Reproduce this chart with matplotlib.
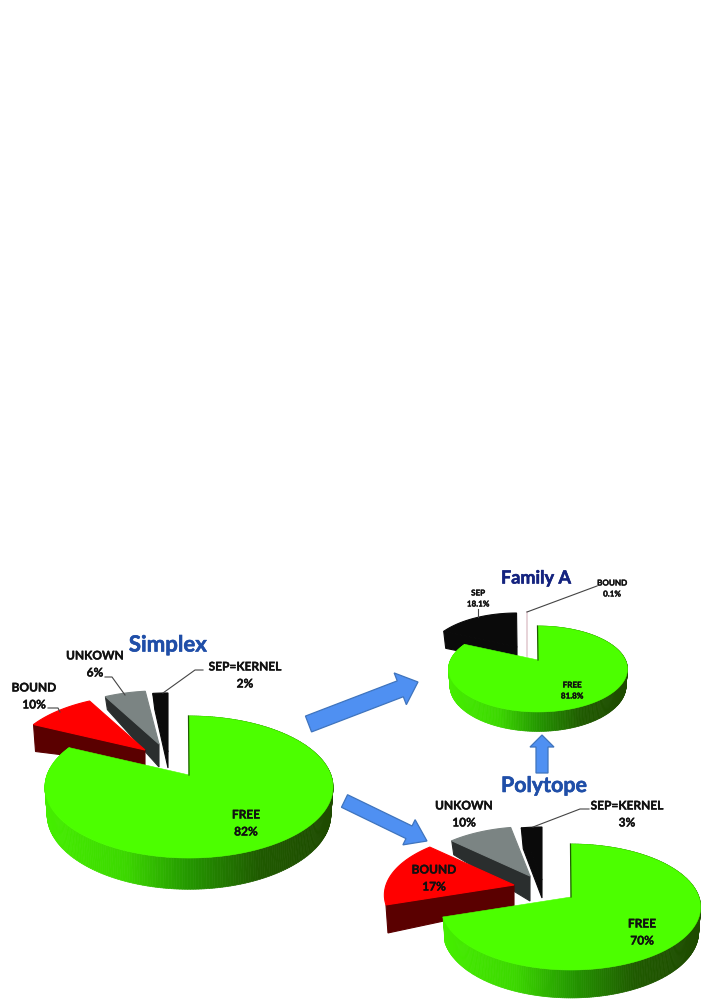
import numpy as np
import matplotlib
matplotlib.use('Agg')
import matplotlib.pyplot as plt
import matplotlib.patheffects as pe
from matplotlib.colors import LinearSegmentedColormap
from matplotlib.patches import FancyArrow, Polygon
from matplotlib.collections import PolyCollection

plt.rcParams['font.family'] = ['Lato', 'DejaVu Sans']

# values (percent, clockwise from 12 o'clock)
simplex_names = ['FREE', 'BOUND', 'UNKOWN', 'SEP=KERNEL']
simplex_vals = [82, 10, 6, 2]
polytope_names = ['FREE', 'BOUND', 'UNKOWN', 'SEP=KERNEL']
polytope_vals = [70, 17, 10, 3]
family_names = ['FREE', 'SEP', 'BOUND']
family_vals = [81.8, 18.1, 0.1]

GREEN = '#4cff00'
RED = '#ff0000'
DRED = '#5a0000'
GREY = '#7b8483'
DGREY = '#2a2e2e'
BLACK = '#0a0a0a'
BLUE = '#1f4ea8'
NAVY = '#14237f'
ARROW = '#4f90f2'
ARROW_EDGE = '#3f74bd'

wall_cmap = LinearSegmentedColormap.from_list(
    'wall', [(0, '#45ee00'), (0.28, '#3cd800'), (0.5, '#249800'), (0.75, '#1f5a00'), (1, '#1e4a00')])

fig = plt.figure(figsize=(7.08, 10.01), dpi=100)
ax = fig.add_axes([0, 0, 1, 1])
ax.set_xlim(0, 708)
ax.set_ylim(1001, 0)
ax.axis('off')


def edges(vals):
    # math angles of slice edges, going clockwise from the top
    return 90 - np.cumsum([0] + list(vals)) * 3.6


def ring(th, rx, ry, k):
    # circle seen in perspective, offsets from the pie centre
    t = np.radians(th)
    s = -np.sin(t)
    d = 1 - k * s
    return rx * np.cos(t) / d, ry * s / d


def draw_slice(a0, a1, tip, scale, wall, col, wcol, rx, ry, k):
    # a0 -> a1 clockwise, wall is under the a0 edge (outer depth, tip depth)
    th = np.linspace(a0, a1, 40)
    x, y = ring(th, rx, ry, k)
    x = tip[0] + x * scale
    y = tip[1] + y * scale
    wall_pts = [(x[0], y[0]), (x[0] + 2, y[0] + wall[0]), (tip[0], tip[1] + wall[1]), tip]
    ax.add_patch(Polygon(wall_pts, closed=True, fc=wcol, ec=wcol, lw=0.8))
    ax.add_patch(Polygon(np.column_stack([np.r_[tip[0], x], np.r_[tip[1], y]]),
                         closed=True, fc=col, ec=col, lw=0.8))


def draw_free(share, c, rx, ry, k, depth):
    a0, a1 = 90, 90 - share * 3.6
    th = np.linspace(a0, a1, 320)
    x, y = ring(th, rx, ry, k)
    s = -np.sin(np.radians(th))
    d = depth / (1 - k * s)
    bx = x * 0.985
    by = y * 0.985 + d
    polys, cols = [], []
    lo, hi = x.min(), x.max()
    for i in range(len(th) - 1):
        polys.append([(c[0] + x[i], c[1] + y[i]), (c[0] + x[i + 1], c[1] + y[i + 1]),
                      (c[0] + bx[i + 1], c[1] + by[i + 1]), (c[0] + bx[i], c[1] + by[i])])
        cols.append(wall_cmap((x[i] - lo) / (hi - lo)))
    ax.add_collection(PolyCollection(polys, facecolors=cols, edgecolors=cols, linewidths=0.5))
    ax.add_patch(Polygon(np.column_stack([np.r_[c[0], c[0] + x], np.r_[c[1], c[1] + y]]),
                         closed=True, fc=GREEN, ec=GREEN, lw=0.4))
    ax.plot([c[0], c[0] - 0.5], [c[1], c[1] - ry / (1 + k)], color='#1e5a00', lw=0.9)


def arrow(x0, y0, x1, y1, w, hw, hl):
    ax.add_patch(FancyArrow(x0, y0, x1 - x0, y1 - y0, width=w, head_width=hw, head_length=hl,
                            length_includes_head=True, fc=ARROW, ec=ARROW_EDGE, lw=0.9))


def heavy(t, col, w):
    t.set_path_effects([pe.withStroke(linewidth=w, foreground=col)])


def label(x, y, a, b, size, gap):
    for yy, s in ((y, a), (y + gap, b)):
        t = ax.text(x, yy, s, ha='center', va='center', fontsize=size, fontweight='bold', color='#111111')
        heavy(t, '#111111', 0.25)


def title(x, y, s, size, col):
    t = ax.text(x, y, s, ha='center', va='center', fontsize=size, fontweight='bold', color=col)
    heavy(t, col, 0.4)


def leader(xs, ys):
    ax.plot(xs, ys, color='#444444', lw=0.8)


# Simplex
e = edges(simplex_vals)
geo = dict(rx=142, ry=69, k=0.169)
draw_slice(e[3], e[4], (168, 752), 1.0, (16, 16), BLACK, BLACK, **geo)
draw_slice(e[2], e[3], (159, 744), 0.9, (13, 23), GREY, DGREY, **geo)
draw_slice(e[1], e[2], (145, 750), 0.93, (27, 15), RED, DRED, **geo)
draw_free(simplex_vals[0], (189, 775), depth=27, **geo)

# Polytope
e = edges(polytope_vals)
geo = dict(rx=128, ry=61.4, k=0.159)
draw_slice(e[3], e[4], (542, 880), 1.0, (21, 18), BLACK, BLACK, **geo)
draw_slice(e[2], e[3], (530, 876), 0.93, (14, 25), GREY, DGREY, **geo)
draw_slice(e[1], e[2], (514, 885), 1.0, (28, 21), RED, DRED, **geo)
draw_free(polytope_vals[0], (571, 897), depth=24.4, **geo)

# Family A
e = edges(family_vals)
geo = dict(rx=87.5, ry=41.1, k=0.209)
draw_slice(e[1], e[2], (517, 647), 1.0, (17, 16), BLACK, BLACK, **geo)
ax.plot([527, 527], [612, 656], color='#e3ccd2', lw=1.2)
draw_free(family_vals[0], (538, 660), depth=16, **geo)

# arrows
arrow(308.5, 724, 418, 682, 17, 34, 19)
arrow(344.5, 801, 427, 841, 14, 28, 20)
arrow(542, 773, 542, 735, 12, 24, 12)

# titles
title(168, 645, 'Simplex', 16, BLUE)
title(536, 578, 'Family A', 13, NAVY)
title(544, 786, 'Polytope', 15.4, BLUE)

# labels
label(34, 688, simplex_names[1], f'{simplex_vals[1]}%', 8.6, 17)
label(95, 656, simplex_names[2], f'{simplex_vals[2]}%', 8.6, 17)
label(245, 667, simplex_names[3], f'{simplex_vals[3]}%', 8.6, 17)
label(246, 815, simplex_names[0], f'{simplex_vals[0]}%', 8.6, 17)
label(464, 806, polytope_names[2], f'{polytope_vals[2]}%', 8.6, 17)
label(627, 806, polytope_names[3], f'{polytope_vals[3]}%', 8.6, 17)
label(434, 870, polytope_names[1], f'{polytope_vals[1]}%', 8.6, 17)
label(642, 924, polytope_names[0], f'{polytope_vals[0]}%', 8.6, 17)
label(478, 593, family_names[1], f'{family_vals[1]}%', 5.8, 11)
label(612, 583, family_names[2], f'{family_vals[2]}%', 5.8, 11)
label(572, 685, family_names[0], f'{family_vals[0]}%', 5.8, 11)

# leader lines
leader([105, 112, 125], [677, 677, 695])
leader([48, 58, 60], [708, 708, 712])
leader([203, 195, 163], [670, 670, 693])
leader([589, 580, 533], [809, 809, 827])
leader([597, 527], [586, 612])
leader([478, 478], [609, 617])

fig.savefig('out.png', dpi=100)
